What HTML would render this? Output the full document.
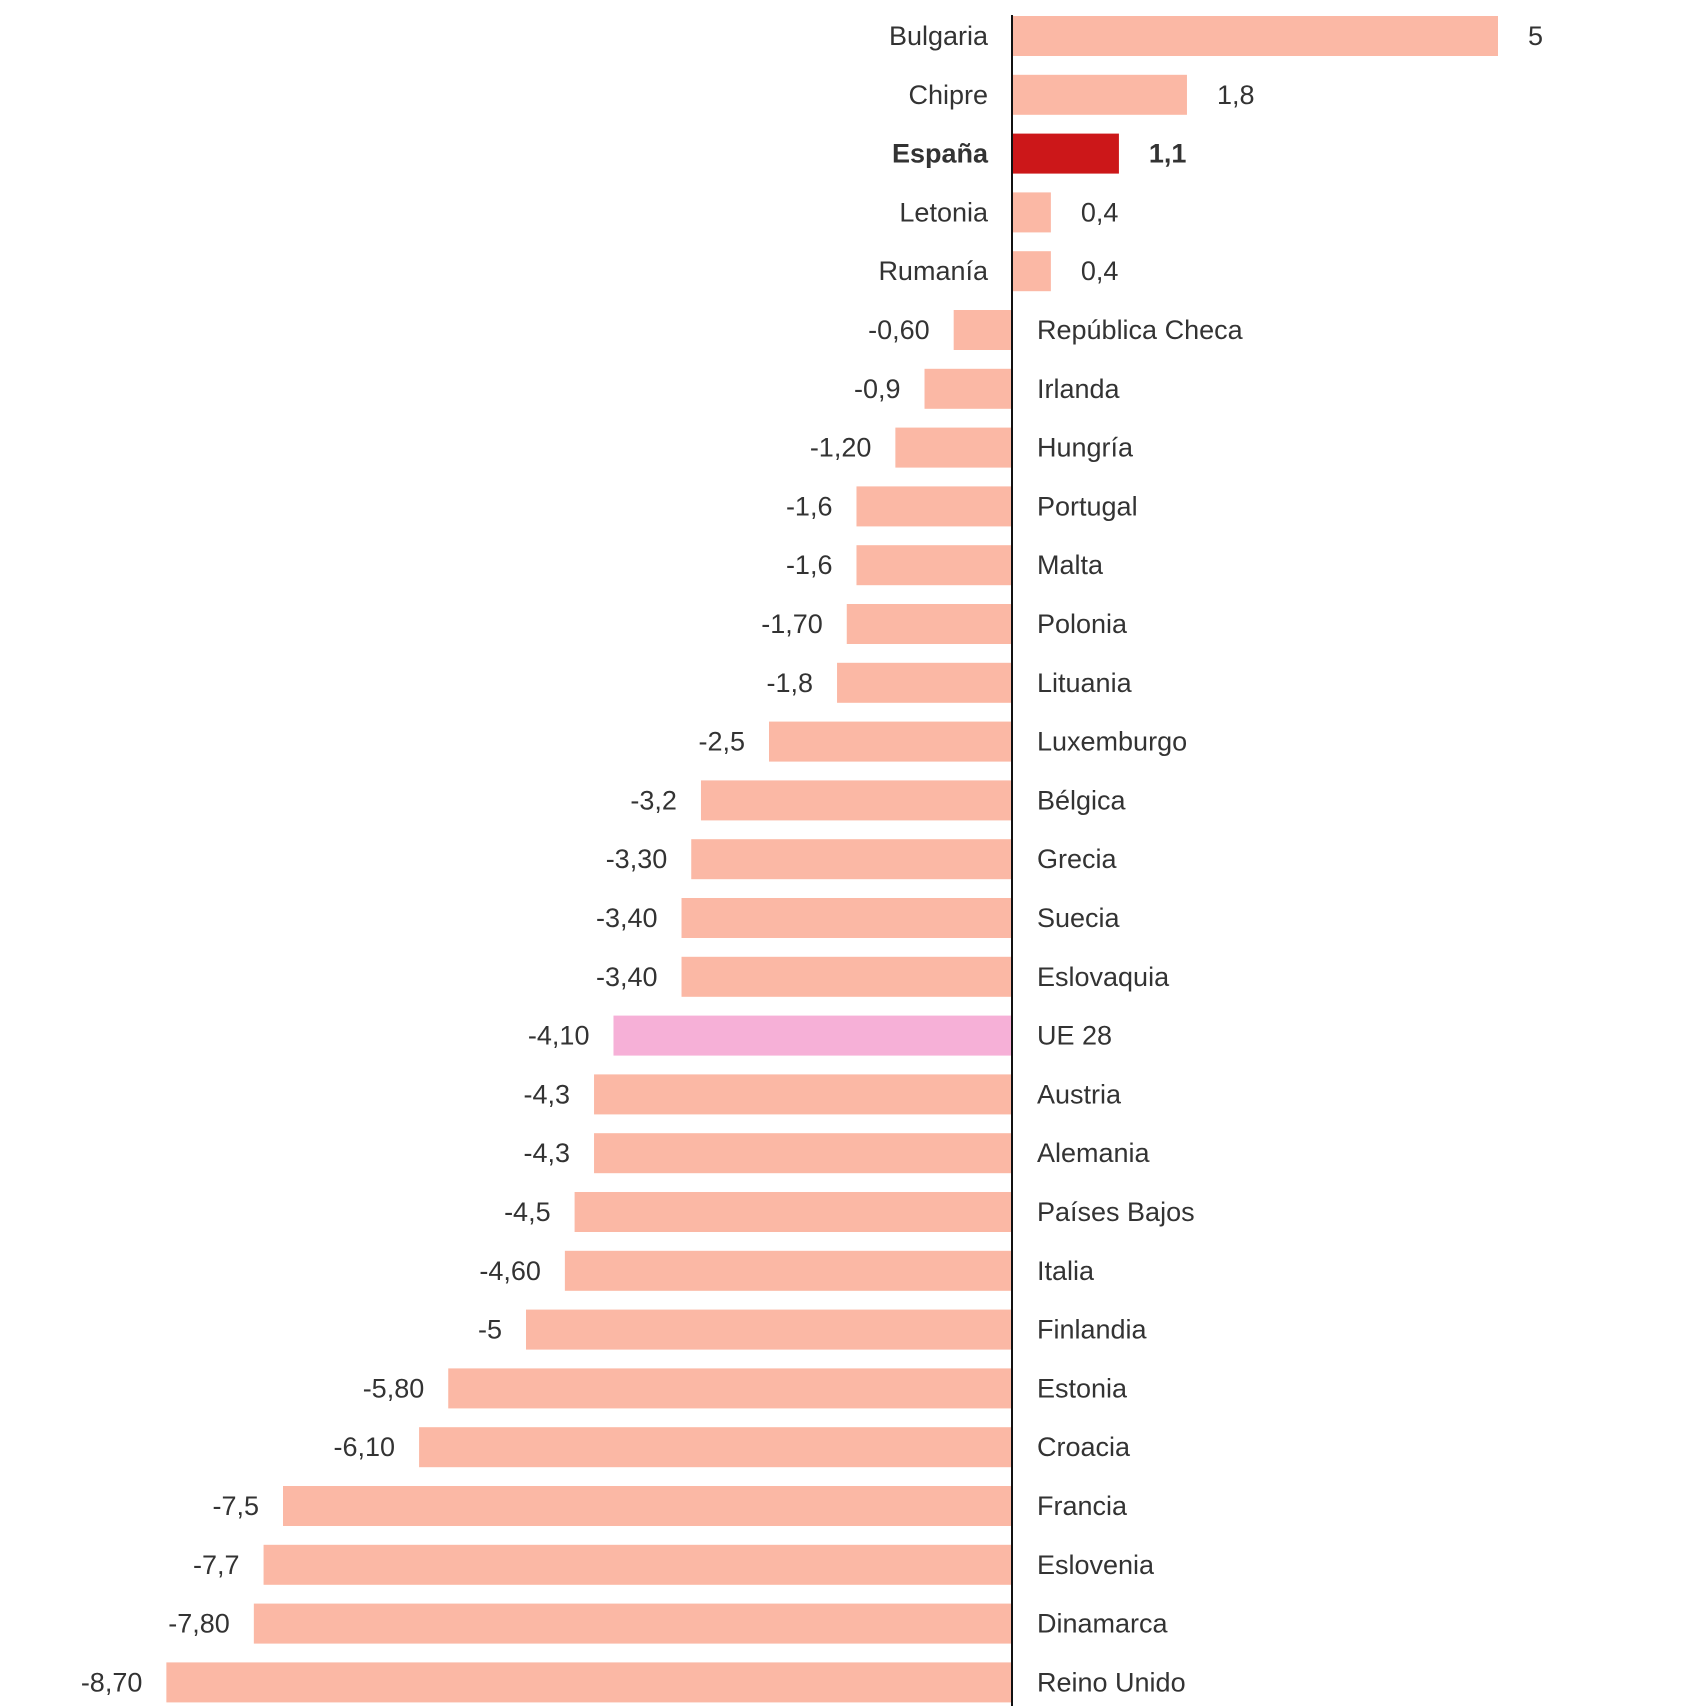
<!DOCTYPE html>
<html><head><meta charset="utf-8"><style>
html,body{margin:0;padding:0;background:#fff;}
svg{display:block;}
text{font-family:"Liberation Sans Narrow","Liberation Sans",sans-serif;font-size:27px;fill:#333;}
</style></head><body>
<svg id="chart" width="1706" height="1706" viewBox="0 0 1706 1706" xmlns="http://www.w3.org/2000/svg"></svg>
<script>
const countries = ["Bulgaria","Chipre","España","Letonia","Rumanía","República Checa","Irlanda","Hungría","Portugal","Malta","Polonia","Lituania","Luxemburgo","Bélgica","Grecia","Suecia","Eslovaquia","UE 28","Austria","Alemania","Países Bajos","Italia","Finlandia","Estonia","Croacia","Francia","Eslovenia","Dinamarca","Reino Unido"];
const values = [5,1.8,1.1,0.4,0.4,-0.6,-0.9,-1.2,-1.6,-1.6,-1.7,-1.8,-2.5,-3.2,-3.3,-3.4,-3.4,-4.1,-4.3,-4.3,-4.5,-4.6,-5,-5.8,-6.1,-7.5,-7.7,-7.8,-8.7];
const valueLabels = ["5","1,8","1,1","0,4","0,4","-0,60","-0,9","-1,20","-1,6","-1,6","-1,70","-1,8","-2,5","-3,2","-3,30","-3,40","-3,40","-4,10","-4,3","-4,3","-4,5","-4,60","-5","-5,80","-6,10","-7,5","-7,7","-7,80","-8,70"];

const svg = document.getElementById('chart');
const NS = "http://www.w3.org/2000/svg";
const zeroX = 1012, pxPerUnit = 97.2;
const x = v => zeroX + v * pxPerUnit;
const rowTop = 36, pitch = 58.8, barH = 40;
const y = i => rowTop + i * pitch;

function mk(tag, attrs){ const e=document.createElementNS(NS,tag); for(const k in attrs) e.setAttribute(k,attrs[k]); return e; }

countries.forEach((c,i)=>{
  const v = values[i];
  const cy = y(i);
  let fill = "#fbb8a5";
  if (c === "España") fill = "#cc1719";
  if (c === "UE 28") fill = "#f6b0d7";
  const x0 = Math.min(x(0), x(v)), w = Math.abs(x(v)-x(0));
  const bar = mk('rect',{x:x0, y:cy-barH/2, width:w, height:barH, fill:fill});
  
  
  svg.appendChild(bar);

  const bold = c === "España";
  const name = mk('text',{y:cy+9});
  const val = mk('text',{y:cy+9});
  if (v >= 0) {
    name.setAttribute('x', zeroX - 24); name.setAttribute('text-anchor','end');
    val.setAttribute('x', x(v) + 30); val.setAttribute('text-anchor','start');
  } else {
    name.setAttribute('x', zeroX + 25); name.setAttribute('text-anchor','start');
    val.setAttribute('x', x(v) - 24); val.setAttribute('text-anchor','end');
  }
  if (bold) { name.setAttribute('font-weight','bold'); val.setAttribute('font-weight','bold'); }
  name.textContent = c;
  val.textContent = valueLabels[i];
  
  
  
  
  svg.appendChild(name); svg.appendChild(val);
});

const axis = mk('line',{x1:zeroX, x2:zeroX, y1:15, y2:1706, stroke:'#111', 'stroke-width':2});


svg.appendChild(axis);
</script>
</body></html>
